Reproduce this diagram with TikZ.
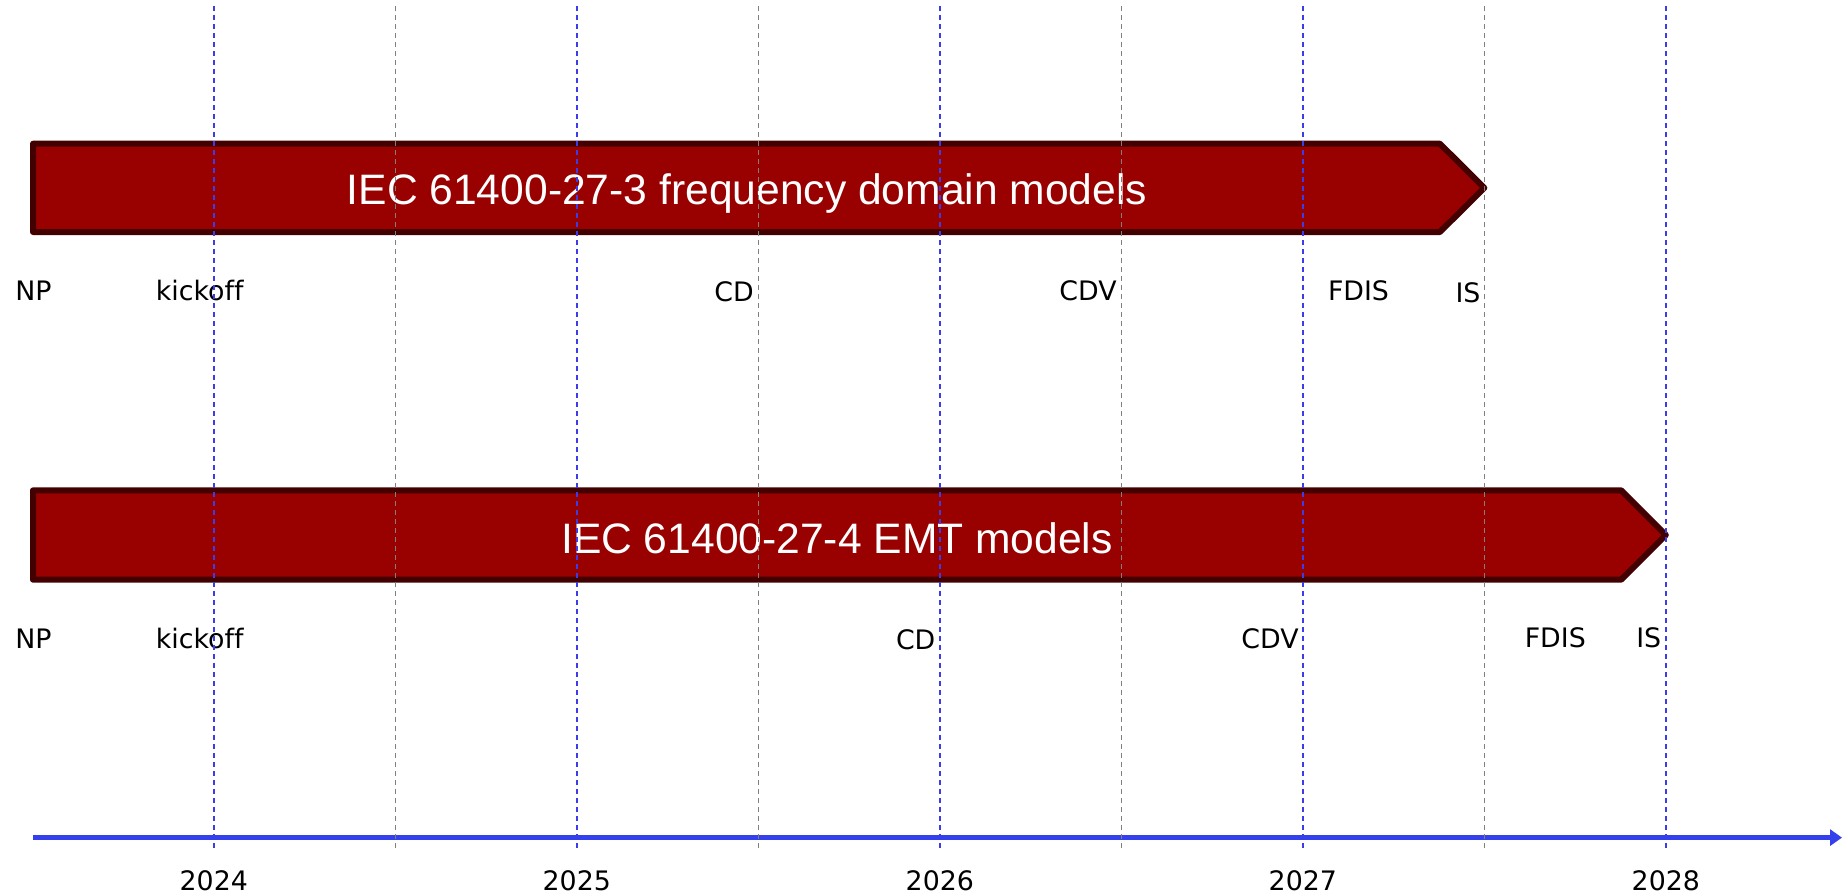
\documentclass[tikz,border=0pt]{standalone}
\usepackage{fontspec}
\setmainfont{DejaVu Sans}[Ligatures=CommonOff]
\newfontfamily\barfont{Liberation Sans}
\usetikzlibrary{arrows.meta}
\definecolor{barred}{RGB}{153,0,0}
\definecolor{baredge}{RGB}{66,0,0}
\definecolor{axisblue}{RGB}{51,64,235}
\definecolor{yearblue}{RGB}{60,60,232}
\definecolor{halfgray}{RGB}{128,128,128}
\begin{document}
\begin{tikzpicture}[x=0.5pt,y=-0.5pt,
  phase/.style={draw=baredge, fill=barred, line width=3pt, line join=round},
  title/.style={font=\barfont\fontsize{21.3}{25}\selectfont, text=white, anchor=base, inner sep=0pt},
  milestone/.style={font=\fontsize{13.4}{16}\selectfont, anchor=base, inner sep=0pt},
  yearline/.style={draw=yearblue, line width=0.7pt, dash pattern=on 2.5pt off 2pt},
  halfline/.style={draw=halfgray, line width=0.7pt, dash pattern=on 2.5pt off 2pt},
  timeaxis/.style={draw=axisblue, line width=2.4pt, -{Triangle[length=6pt,width=8pt]}}
]
\useasboundingbox (0,0) rectangle (1842,895);

% phase bars (chevron-ended)
\draw[phase] (33,143.7) -- (1439.9,143.7) -- (1484.3,187.9) -- (1439.9,232) -- (33,232) -- cycle;
\draw[phase] (33,490.3) -- (1621.1,490.3) -- (1665.8,535) -- (1621.1,579.7) -- (33,579.7) -- cycle;
\node[title] (t3) at (747,204) {IEC 61400-27-3 frequency domain models};
\node[title] (t4) at (837,553.3) {IEC 61400-27-4 EMT models};

% milestones, part 3
\node[milestone] (np3)   at (33.5,300)   {NP};
\node[milestone] (ko3)   at (199.7,300)  {kickoff};
\node[milestone] (cd3)   at (734,301)    {CD};
\node[milestone] (cdv3)  at (1088,300)   {CDV};
\node[milestone] (fdis3) at (1358.5,300) {FDIS};
\node[milestone] (is3)   at (1468,302)   {IS};

% milestones, part 4
\node[milestone] (np4)   at (33.5,648)   {NP};
\node[milestone] (ko4)   at (199.7,648)  {kickoff};
\node[milestone] (cd4)   at (915.7,649)  {CD};
\node[milestone] (cdv4)  at (1270,648)   {CDV};
\node[milestone] (fdis4) at (1555.3,647) {FDIS};
\node[milestone] (is4)   at (1648.7,647) {IS};

% time axis
\coordinate (axstart) at (32.9,837.6);
\coordinate (axend) at (1842,837.6);
\draw[timeaxis] (axstart) -- (axend);

% year labels
\foreach \yr [count=\k from 0] in {2024,2025,2026,2027,2028}{
  \node[milestone] (y\yr) at (213.8+363*\k,890) {\yr};
}

% grid lines
\foreach \k in {0,...,4}{
  \draw[yearline] (213.8+363*\k,6) -- (213.8+363*\k,851);
}
\foreach \k in {0,...,3}{
  \draw[halfline] (395.3+363*\k,6) -- (395.3+363*\k,851);
}
\end{tikzpicture}
\end{document}
